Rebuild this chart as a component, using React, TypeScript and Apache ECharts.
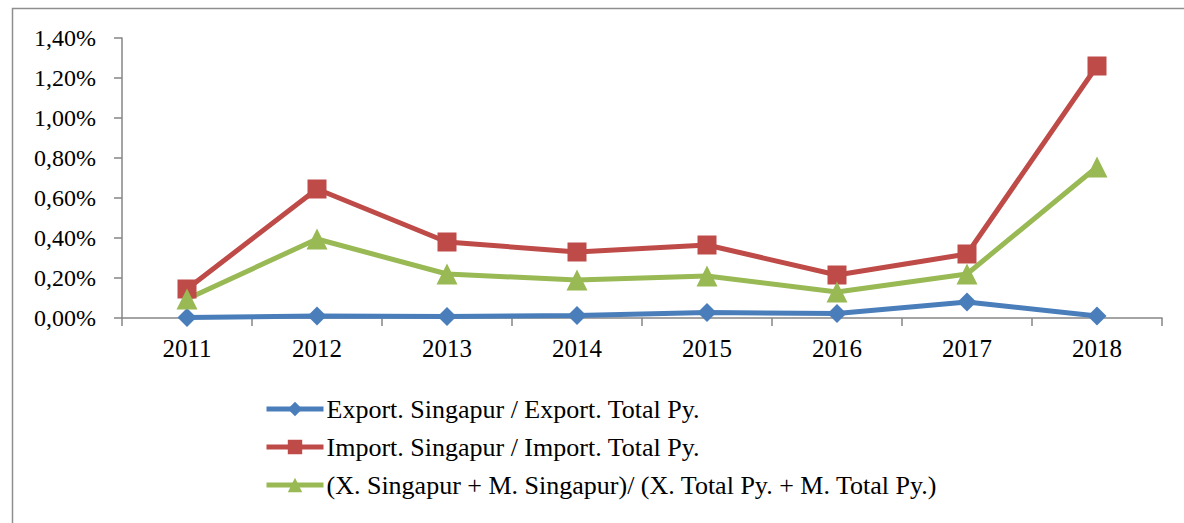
import React, { useEffect, useRef } from "react";
import * as echarts from "echarts";

const years = ["2011", "2012", "2013", "2014", "2015", "2016", "2017", "2018"];
const exportShare = [0.003, 0.01, 0.008, 0.012, 0.027, 0.022, 0.08, 0.01];
const importShare = [0.145, 0.645, 0.38, 0.33, 0.365, 0.215, 0.32, 1.26];
const totalShare = [0.095, 0.395, 0.22, 0.19, 0.21, 0.13, 0.22, 0.755];
const seriesNames = [
  "Export. Singapur / Export. Total Py.",
  "Import. Singapur / Import. Total Py.",
  "(X. Singapur + M. Singapur)/ (X. Total Py. + M. Total Py.)",
];

const FONT = "Liberation Serif";
const AXIS = "#868686";

export default function App() {
  const ref = useRef<HTMLDivElement>(null);
  useEffect(() => {
    const chart = echarts.init(ref.current!, null, { renderer: "svg" });
    chart.setOption({
      animation: false,
      backgroundColor: "#fff",
      textStyle: { fontFamily: FONT, fontSize: 25 },
      graphic: [
        {
          type: "rect",
          shape: { x: 12.5, y: 8.5, width: 1300, height: 600 },
          style: { fill: "none", stroke: "#8e8e8e", lineWidth: 1.5 },
          silent: true,
        },
      ],
      grid: { left: 122, right: 22, top: 38, bottom: 205, containLabel: false },
      legend: {
        orient: "vertical",
        left: 264,
        top: 396,
        padding: 0,
        itemWidth: 57,
        itemHeight: 18,
        itemGap: 12,
        lineStyle: { width: 5 },
        textStyle: { fontFamily: FONT, fontSize: 26, color: "#000", padding: [0, 0, 0, -2] },
        data: seriesNames,
      },
      xAxis: {
        type: "category",
        data: years,
        boundaryGap: true,
        axisLine: { lineStyle: { color: AXIS, width: 1.5 } },
        axisTick: { show: true, length: 8, inside: false, lineStyle: { color: AXIS, width: 1.5 } },
        axisLabel: { fontFamily: FONT, fontSize: 25, color: "#000", margin: 18 },
        splitLine: { show: false },
      },
      yAxis: {
        type: "value",
        min: 0,
        max: 1.4,
        interval: 0.2,
        axisLine: { show: true, lineStyle: { color: AXIS, width: 1.5 } },
        axisTick: { show: true, length: 8, lineStyle: { color: AXIS, width: 1.5 } },
        axisLabel: {
          fontFamily: FONT,
          fontSize: 24,
          color: "#000",
          margin: 26,
          formatter: (v: number) => v.toFixed(2).replace(".", ",") + "%",
        },
        splitLine: { show: false },
      },
      series: [
        {
          name: seriesNames[0],
          type: "line",
          data: exportShare,
          symbol: "diamond",
          symbolSize: 19,
          itemStyle: { color: "#4a7ebb" },
          lineStyle: { color: "#4a7ebb", width: 5 },
        },
        {
          name: seriesNames[1],
          type: "line",
          data: importShare,
          symbol: "rect",
          symbolSize: 19,
          itemStyle: { color: "#be4b48" },
          lineStyle: { color: "#be4b48", width: 5 },
        },
        {
          name: seriesNames[2],
          type: "line",
          data: totalShare,
          symbol: "triangle",
          symbolSize: 21,
          itemStyle: { color: "#98b954" },
          lineStyle: { color: "#98b954", width: 5 },
        },
      ],
    });
    return () => chart.dispose();
  }, []);
  return (
    <div
      ref={ref}
      style={{ position: "fixed", left: 0, top: 0, width: 1184, height: 523 }}
    />
  );
}
